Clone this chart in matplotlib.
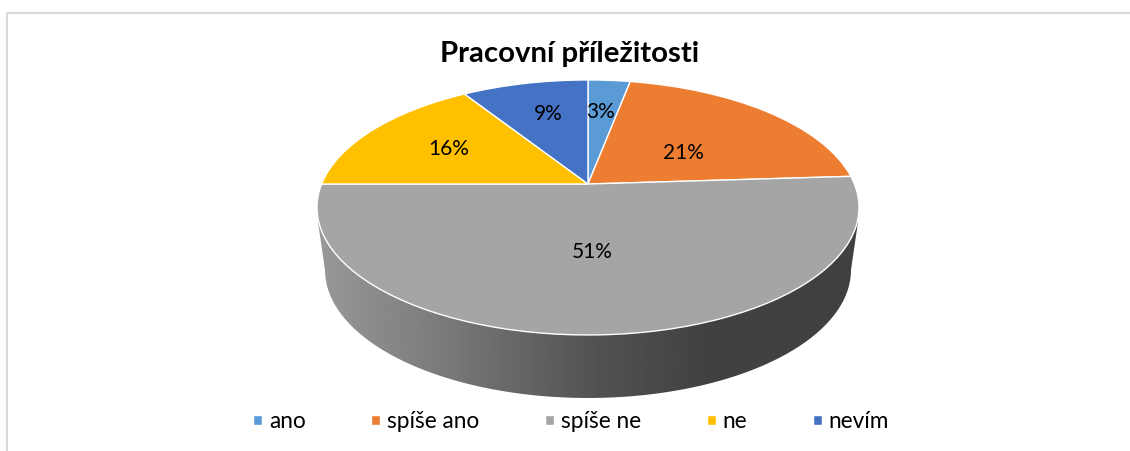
import numpy as np
import matplotlib
matplotlib.use('Agg')
import matplotlib.pyplot as plt
from matplotlib.path import Path
from matplotlib.patches import PathPatch
from matplotlib.transforms import Transform

categories = ['ano', 'spíše ano', 'spíše ne', 'ne', 'nevím']
shares = [3, 21, 51, 16, 9]
title = 'Pracovní příležitosti'

colors = ['#5B9BD5', '#ED7D31', '#A5A5A5', '#FFC000', '#4472C4']
# where each percentage sits: fraction of radius, degrees clockwise off the slice middle
label_radius = [0.66, 0.46, 0.50, 0.63, 0.66]
label_turn = [-1, 6, 0, 0, 1.5]

W, H = 1130, 451
CX, CY = 588, 184      # where the slices meet on screen
K = 0.184              # tilt of the pie
A = 123.2
B = 266.4


class TiltedPie(Transform):
    ''' Perspective of the unit circle onto the screen, in pixels '''
    input_dims = 2
    output_dims = 2
    is_separable = False

    def transform_non_affine(self, values):
        values = np.asarray(values, dtype=float)
        d = 1 + K * values[:, 1]
        return np.column_stack((CX + B * values[:, 0] / d, CY - A * values[:, 1] / d))


fig = plt.figure(figsize=(W / 100, H / 100), dpi=100)
plt.rcParams['font.family'] = ['Lato', 'DejaVu Sans']
ax = fig.add_axes([0, 0, 1, 1])

wedges, _, pcts = ax.pie(shares, colors=colors, startangle=90, counterclock=False,
                         autopct='%.0f%%', wedgeprops={'edgecolor': 'white', 'linewidth': 1.0},
                         textprops={'fontsize': 15, 'color': 'black'})

ax.set_aspect('auto')
ax.set_xlim(0, W)
ax.set_ylim(H, 0)
ax.axis('off')

tilt = TiltedPie() + ax.transData
for w in wedges:
    w.set_transform(tilt)
    w.set_zorder(3)

# percentages
cum = np.cumsum(shares)
for pct, share, c, r, turn in zip(pcts, shares, cum, label_radius, label_turn):
    ang = np.deg2rad(90 - (c - share / 2) * 3.6 - turn)
    pct.set_position((r * np.cos(ang), r * np.sin(ang)))
    pct.set_transform(tilt)
    pct.set_zorder(4)

# side wall of the pie, gradient clipped to its outline
t = np.linspace(np.pi, 0, 80)
wall_x = np.concatenate(([318], 588 + 263 * np.cos(t), [858]))
wall_y = np.concatenate(([222], 270 + 128 * np.sin(t), [222]))
wall = Path(np.column_stack((wall_x, wall_y)))
shade = np.interp(np.arange(318, 859), [318, 400, 500, 600, 700, 858],
                  [0.60, 0.52, 0.42, 0.32, 0.26, 0.25])
im = ax.imshow(shade[np.newaxis, :], extent=(318, 858, 400, 220), cmap='gray', vmin=0, vmax=1,
               aspect='auto', zorder=2)
im.set_clip_path(PathPatch(wall, transform=ax.transData))
ax.set_xlim(0, W)
ax.set_ylim(H, 0)

# chart frame, only top and left are in the crop
ax.plot([6.5, 6.5, W], [H, 13, 13], color='#D9D9D9', lw=1.5, zorder=1)

ax.text(570, 54, title, fontsize=21.2, fontweight='bold', ha='center', va='center', color='black')

fig.legend(wedges, categories, ncol=5, loc='center', bbox_to_anchor=(571 / W, 1 - 422 / H),
           frameon=False, fontsize=16.3, handlelength=0.4, handleheight=0.32,
           handletextpad=0.3, columnspacing=2.9)

fig.savefig('out.png', dpi=100)
